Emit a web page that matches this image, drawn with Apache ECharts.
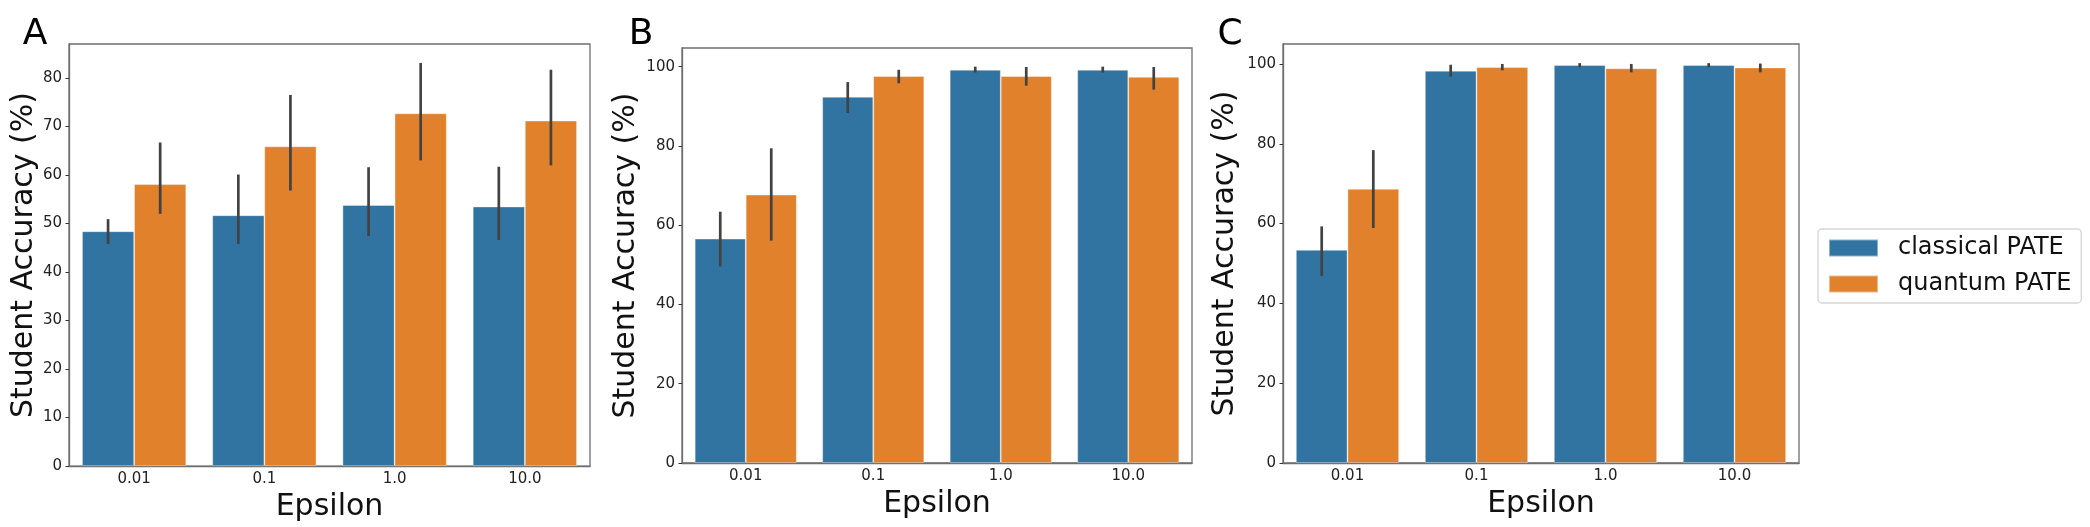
<!DOCTYPE html>
<html>
<head>
<meta charset="utf-8">
<script src="https://cdn.jsdelivr.net/npm/echarts@6/dist/echarts.min.js"></script>
<style>
  html, body { margin: 0; padding: 0; background: #fff; }
  #chart { width: 2090px; height: 527px; }
</style>
</head>
<body>
<div id="chart"></div>
<script>
const epsilons = ['0.01', '0.1', '1.0', '10.0'];

// panel A
const classicalA = [48.4, 51.7, 53.8, 53.5];
const quantumA = [58.1, 65.9, 72.7, 71.2];
const classicalAErr = [[45.8, 50.9], [45.8, 60.1], [47.4, 61.6], [46.6, 61.7]];
const quantumAErr = [[52.0, 66.7], [56.8, 76.5], [63.0, 83.1], [62.0, 81.7]];

// panel B
const classicalB = [56.6, 92.4, 99.2, 99.2];
const quantumB = [67.7, 97.6, 97.6, 97.4];
const classicalBErr = [[49.6, 63.4], [88.3, 96.1], [98.5, 100.0], [98.5, 100.0]];
const quantumBErr = [[56.1, 79.4], [95.8, 99.2], [95.2, 99.9], [94.2, 99.9]];

// panel C
const classicalC = [53.4, 98.3, 99.7, 99.7];
const quantumC = [68.7, 99.2, 98.9, 99.1];
const classicalCErr = [[46.9, 59.3], [96.8, 99.8], [99.2, 100.2], [99.2, 100.2]];
const quantumCErr = [[58.9, 78.4], [98.4, 100.0], [97.9, 100.0], [97.9, 100.1]];

const yMax = [87, 104.7, 105.0];
const yStep = [10, 20, 20];

const BLUE = '#3274a1';
const ORANGE = '#e1812c';
const FONT = 'DejaVu Sans';

const panels = [
  { label: 'A', cls: classicalA, qua: quantumA, clsErr: classicalAErr, quaErr: quantumAErr,
    grid: { left: 69, top: 44, width: 521, height: 423 }, nameGap: 29, labelX: 35 },
  { label: 'B', cls: classicalB, qua: quantumB, clsErr: classicalBErr, quaErr: quantumBErr,
    grid: { left: 682, top: 48, width: 510, height: 415 }, nameGap: 41, labelX: 641 },
  { label: 'C', cls: classicalC, qua: quantumC, clsErr: classicalCErr, quaErr: quantumCErr,
    grid: { left: 1283, top: 44, width: 516, height: 419 }, nameGap: 43, labelX: 1230 }
];

function errorItem(params, api) {
  const cat = api.value(0);
  const lo = api.coord([cat, api.value(1)]);
  const hi = api.coord([cat, api.value(2)]);
  const band = api.size([1, 0])[0];
  const dx = (api.value(3) === 0 ? -0.2 : 0.2) * band;
  return {
    type: 'line',
    shape: { x1: lo[0] + dx, y1: lo[1], x2: hi[0] + dx, y2: hi[1] },
    style: { stroke: '#424242', lineWidth: 2.7 }
  };
}

const grids = [], xAxes = [], yAxes = [], series = [], graphics = [];

panels.forEach((p, i) => {
  grids.push(Object.assign({ show: true, borderColor: '#6e6e6e', borderWidth: 1.3, backgroundColor: 'transparent' }, p.grid));

  xAxes.push({
    type: 'category', gridIndex: i, data: epsilons,
    name: 'Epsilon', nameLocation: 'middle', nameGap: 19,
    nameTextStyle: { fontFamily: FONT, fontSize: 30, color: '#111' },
    axisLine: { lineStyle: { color: '#6e6e6e', width: 1.3 } },
    axisTick: { alignWithLabel: true, length: 3.5, lineStyle: { color: '#333' } },
    axisLabel: { fontFamily: FONT, fontSize: 15, color: '#222', margin: 6 },
    splitLine: { show: false }
  });

  yAxes.push({
    type: 'value', gridIndex: i, min: 0, max: yMax[i], interval: yStep[i],
    name: 'Student Accuracy (%)', nameLocation: 'middle', nameGap: p.nameGap,
    nameTextStyle: { fontFamily: FONT, fontSize: 30, color: '#111' },
    axisLine: { show: true, lineStyle: { color: '#6e6e6e', width: 1.3 } },
    axisTick: { show: true, length: 3.5, lineStyle: { color: '#333' } },
    axisLabel: { fontFamily: FONT, fontSize: 15, color: '#222', margin: 7, showMaxLabel: false },
    splitLine: { show: false }
  });

  const itemBorder = { borderColor: 'rgba(255,255,255,0.45)', borderWidth: 0.8 };
  series.push({
    name: 'classical PATE', type: 'bar', xAxisIndex: i, yAxisIndex: i,
    data: p.cls, barGap: '0%', barCategoryGap: '20%',
    itemStyle: Object.assign({ color: BLUE }, itemBorder)
  });
  series.push({
    name: 'quantum PATE', type: 'bar', xAxisIndex: i, yAxisIndex: i,
    data: p.qua, barGap: '0%', barCategoryGap: '20%',
    itemStyle: Object.assign({ color: ORANGE }, itemBorder)
  });

  const errData = [];
  p.clsErr.forEach((e, k) => errData.push([k, e[0], e[1], 0]));
  p.quaErr.forEach((e, k) => errData.push([k, e[0], e[1], 1]));
  series.push({
    type: 'custom', xAxisIndex: i, yAxisIndex: i, z: 5,
    renderItem: errorItem, encode: { x: 0, y: [1, 2] },
    data: errData, silent: true
  });

  graphics.push({
    type: 'text', x: p.labelX, y: 35,
    style: { text: p.label, font: '36px "' + FONT + '"', fill: '#000', align: 'center', verticalAlign: 'middle' }
  });
});

const chart = echarts.init(document.getElementById('chart'));
chart.setOption({
  animation: false,
  backgroundColor: '#fff',
  grid: grids,
  xAxis: xAxes,
  yAxis: yAxes,
  series: series,
  graphic: graphics,
  legend: {
    orient: 'vertical', left: 1818, top: 229,
    data: ['classical PATE', 'quantum PATE'],
    icon: 'rect', itemWidth: 49, itemHeight: 17, itemGap: 12,
    padding: [7, 10, 7, 10],
    borderColor: '#d6d6d6', borderWidth: 1.3, borderRadius: 4,
    textStyle: { fontFamily: FONT, fontSize: 24, color: '#111', padding: [0, 0, 0, 15] }
  }
});
</script>
</body>
</html>
